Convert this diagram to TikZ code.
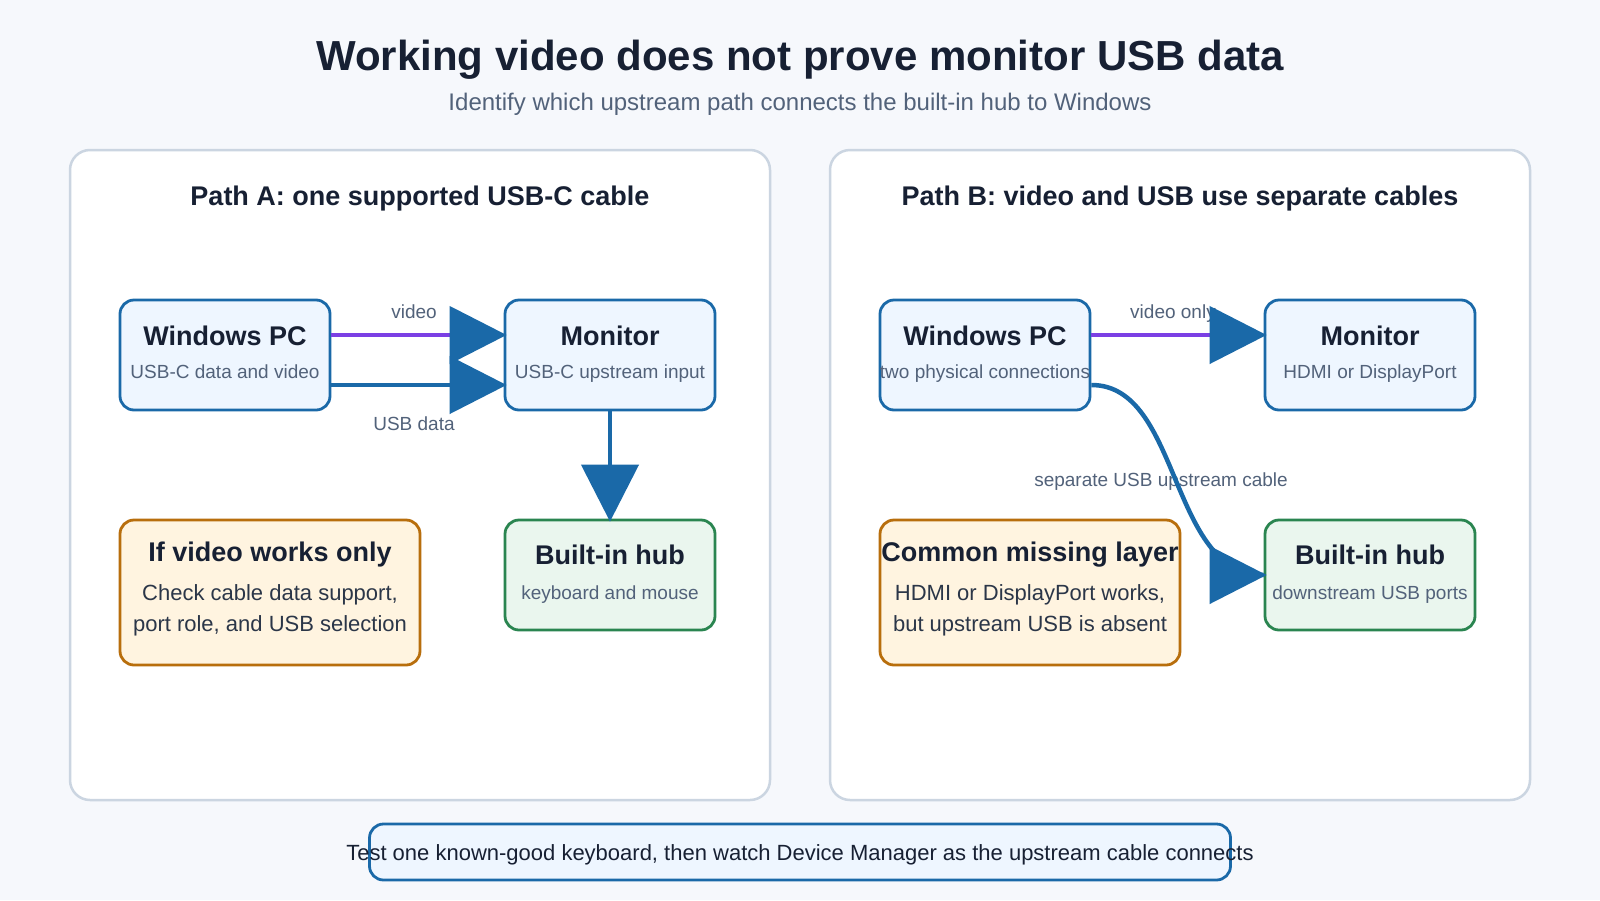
\documentclass[tikz,border=0pt]{standalone}
\usepackage{fontspec}
\setmainfont{Liberation Sans}
\usetikzlibrary{arrows.meta}

\definecolor{bgpage}{HTML}{F6F8FC}
\definecolor{ink}{HTML}{172033}
\definecolor{bodyink}{HTML}{2B3648}
\definecolor{muted}{HTML}{52627A}
\definecolor{panelline}{HTML}{CBD5E1}
\definecolor{usbblue}{HTML}{1A69A8}
\definecolor{bluefill}{HTML}{EEF6FF}
\definecolor{hubgreen}{HTML}{2A8550}
\definecolor{greenfill}{HTML}{EAF6EE}
\definecolor{warnorange}{HTML}{B86E0C}
\definecolor{orangefill}{HTML}{FFF4E0}
\definecolor{videopurple}{HTML}{7B3FE4}

\tikzset{
  panel/.style={draw=panelline, fill=white, line width=2.5pt, rounded corners=20pt,
    minimum width=700pt, minimum height=650pt, inner sep=0pt},
  devbox/.style={line width=2.8pt, rounded corners=14pt, inner sep=0pt,
    minimum width=210pt, minimum height=110pt},
  bluebox/.style={devbox, draw=usbblue, fill=bluefill},
  hubbox/.style={devbox, draw=hubgreen, fill=greenfill},
  notebox/.style={devbox, draw=warnorange, fill=orangefill, minimum width=300pt, minimum height=145pt},
  head/.style={anchor=base, text=ink, font=\fontsize{27}{31}\selectfont\bfseries},
  sub/.style={anchor=base, text=muted, font=\fontsize{19}{23}\selectfont},
  body/.style={anchor=base, text=bodyink, font=\fontsize{22}{26}\selectfont},
  lbl/.style={anchor=base, text=muted, font=\fontsize{19}{23}\selectfont},
  cable/.style={line width=4.5pt},
  wire/.style={cable, shorten >=-3pt, -{Triangle[length=57pt, width=57pt, color=usbblue]}},
}

\begin{document}
\begin{tikzpicture}[x=1pt, y=-1pt]
    % Page
    \fill[bgpage] (0,0) rectangle (1600,900);
    \useasboundingbox (0,0) rectangle (1600,900);

    % Heading
    \node[anchor=base, text=ink, font=\fontsize{42}{50}\selectfont\bfseries] (title) at (800,70)
        {Working video does not prove monitor USB data};
    \node[anchor=base, text=muted, font=\fontsize{24}{28}\selectfont] (subtitle) at (800,110)
        {Identify which upstream path connects the built-in hub to Windows};

    % Panels
    \node[panel] (panelA) at (420,475) {};
    \node[panel] (panelB) at (1180,475) {};
    \node[head] (titleA) at (420,205) {Path A: one supported USB-C cable};
    \node[head] (titleB) at (1180,205) {Path B: video and USB use separate cables};

    % Path A boxes
    \node[bluebox] (pcA) at (225,355) {};
    \node[head] (pcAhead) at ([yshift=10pt]pcA.center) {Windows PC};
    \node[sub] (pcAsub) at ([yshift=-23pt]pcA.center) {USB-C data and video};

    \node[bluebox] (monA) at (610,355) {};
    \node[head] (monAhead) at ([yshift=10pt]monA.center) {Monitor};
    \node[sub] (monAsub) at ([yshift=-23pt]monA.center) {USB-C upstream input};

    \node[hubbox] (hubA) at (610,575) {};
    \node[head] (hubAhead) at ([yshift=11pt]hubA.center) {Built-in hub};
    \node[sub] (hubAsub) at ([yshift=-24pt]hubA.center) {keyboard and mouse};

    \node[notebox] (noteA) at (270,592.5) {};
    \node[head] (noteAhead) at ([yshift=31.5pt]noteA.center) {If video works only};
    \node[body] (noteAone) at ([yshift=-8pt]noteA.center) {Check cable data support,};
    \node[body] (noteAtwo) at ([yshift=-39pt]noteA.center) {port role, and USB selection};

    % Path B boxes
    \node[bluebox] (pcB) at (985,355) {};
    \node[head] (pcBhead) at ([yshift=10pt]pcB.center) {Windows PC};
    \node[sub] (pcBsub) at ([yshift=-23pt]pcB.center) {two physical connections};

    \node[bluebox] (monB) at (1370,355) {};
    \node[head] (monBhead) at ([yshift=10pt]monB.center) {Monitor};
    \node[sub] (monBsub) at ([yshift=-23pt]monB.center) {HDMI or DisplayPort};

    \node[hubbox] (hubB) at (1370,575) {};
    \node[head] (hubBhead) at ([yshift=11pt]hubB.center) {Built-in hub};
    \node[sub] (hubBsub) at ([yshift=-24pt]hubB.center) {downstream USB ports};

    \node[notebox] (noteB) at (1030,592.5) {};
    \node[head] (noteBhead) at ([yshift=31.5pt]noteB.center) {Common missing layer};
    \node[body] (noteBone) at ([yshift=-8pt]noteB.center) {HDMI or DisplayPort works,};
    \node[body] (noteBtwo) at ([yshift=-39pt]noteB.center) {but upstream USB is absent};

    % Connector labels
    \node[lbl] (vidA) at (414,318) {video};
    \node[lbl] (usbA) at (414,430) {USB data};
    \node[lbl] (vidB) at (1173,318) {video only};
    \node[lbl] (usbB) at (1161,486) {separate USB upstream cable};

    % Connectors
    \draw[wire, videopurple] ([yshift=20pt]pcA.east) -- ([yshift=20pt]monA.west);
    \draw[wire, usbblue] ([yshift=-30pt]pcA.east) -- ([yshift=-30pt]monA.west);
    \draw[wire, usbblue] (monA.south) -- (hubA.north);
    \draw[wire, videopurple] ([yshift=20pt]pcB.east) -- ([yshift=20pt]monB.west);
    \draw[cable, usbblue] ([yshift=-30pt]pcB.east) .. controls +(90,0) and +(-95,0) .. (hubB.west);
    \draw[wire, usbblue] ([xshift=-54pt]hubB.west) -- (hubB.west);

    % Footer
    \node[devbox, draw=usbblue, fill=bluefill, minimum width=861pt, minimum height=56pt] (footer) at (800,852) {};
    \node[anchor=base, text=ink, font=\fontsize{22}{26}\selectfont] (footertext) at (800,860)
        {Test one known-good keyboard, then watch Device Manager as the upstream cable connects};
\end{tikzpicture}
\end{document}
